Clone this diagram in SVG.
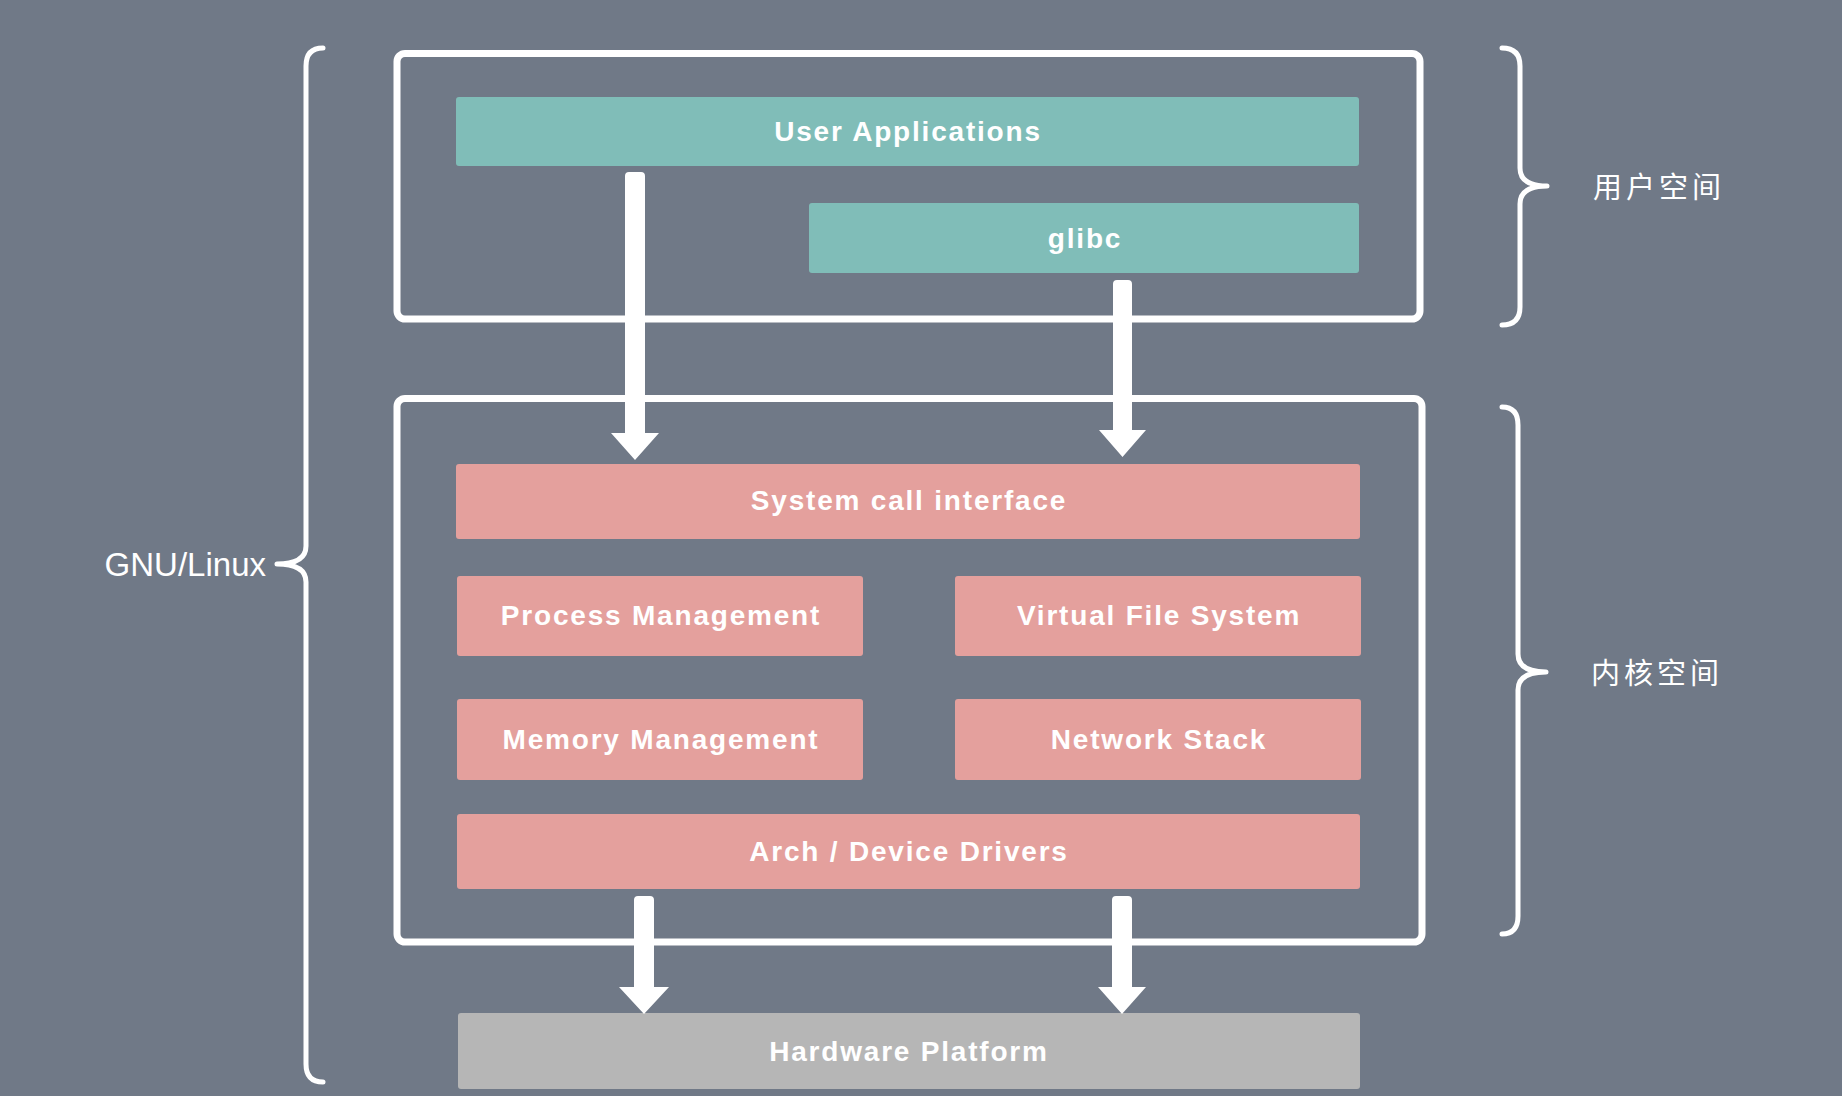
<svg xmlns="http://www.w3.org/2000/svg" width="1842" height="1096" viewBox="0 0 1842 1096">
<style>
.frame{fill:none;stroke:#ffffff;stroke-width:7}
.brace{fill:none;stroke:#ffffff;stroke-width:5;stroke-linecap:round;stroke-linejoin:round}
.user{fill:#80bdb8}
.kern{fill:#e4a09d}
.hw{fill:#b6b6b6}
.lbl{font-family:"Liberation Sans",Arial,sans-serif;font-weight:bold;font-size:28px;letter-spacing:1.8px;fill:#ffffff;text-anchor:middle;dominant-baseline:central}
.side{font-family:"Liberation Sans",Arial,sans-serif;font-size:33px;fill:#ffffff}
.cjk{font-family:"Noto Sans CJK SC","Liberation Sans",sans-serif;font-size:29px;letter-spacing:4px;fill:#ffffff}
.arrow{fill:#ffffff}
</style>
<rect x="0" y="0" width="1842" height="1096" fill="#707987"/>

<g id="user-space-frame"><rect class="frame" x="397" y="53.5" width="1023" height="265.5" rx="8"/></g>
<g id="kernel-space-frame"><rect class="frame" x="397" y="398.5" width="1025" height="543.5" rx="8"/></g>

<g id="user-applications"><rect class="user" x="456" y="97" width="903" height="69" rx="3"/><text class="lbl" x="908" y="131">User Applications</text></g>
<g id="glibc"><rect class="user" x="809" y="203" width="550" height="70" rx="3"/><text class="lbl" x="1085" y="238">glibc</text></g>

<g id="system-call-interface"><rect class="kern" x="456" y="464" width="904" height="75" rx="3"/><text class="lbl" x="909" y="500">System call interface</text></g>
<g id="process-management"><rect class="kern" x="457" y="576" width="406" height="80" rx="3"/><text class="lbl" x="661" y="615">Process Management</text></g>
<g id="virtual-file-system"><rect class="kern" x="955" y="576" width="406" height="80" rx="3"/><text class="lbl" x="1159" y="615">Virtual File System</text></g>
<g id="memory-management"><rect class="kern" x="457" y="699" width="406" height="81" rx="3"/><text class="lbl" x="661" y="739">Memory Management</text></g>
<g id="network-stack"><rect class="kern" x="955" y="699" width="406" height="81" rx="3"/><text class="lbl" x="1159" y="739">Network Stack</text></g>
<g id="arch-device-drivers"><rect class="kern" x="457" y="814" width="903" height="75" rx="3"/><text class="lbl" x="909" y="851">Arch / Device Drivers</text></g>

<g id="hardware-platform"><rect class="hw" x="458" y="1013" width="902" height="76" rx="3"/><text class="lbl" x="909" y="1051">Hardware Platform</text></g>

<g id="gnu-linux"><path class="brace" d="M323 48 Q306 48 306 66 L306 546 Q306 564 277 564 Q306 564 306 582 L306 1064 Q306 1082 323 1082"/><text class="side" x="266" y="576" text-anchor="end">GNU/Linux</text></g>
<g id="user-space"><path class="brace" d="M1502 48 Q1520 48 1520 66 L1520 168 Q1520 186 1547 186 Q1520 186 1520 204 L1520 307 Q1520 325 1502 325"/><text class="cjk" x="1593" y="198">用户空间</text></g>
<g id="kernel-space"><path class="brace" d="M1502 407 Q1518 407 1518 425 L1518 654 Q1518 672 1546 672 Q1518 672 1518 690 L1518 916 Q1518 934 1502 934"/><text class="cjk" x="1591" y="684">内核空间</text></g>

<g id="connectors">
<path class="arrow" d="M625 176 Q625 172 629 172 L641 172 Q645 172 645 176 L645 433 L659 433 L635 460 L611 433 L625 433 Z"/>
<path class="arrow" d="M1113 284 Q1113 280 1117 280 L1128 280 Q1132 280 1132 284 L1132 430 L1146 430 L1122.5 457 L1099 430 L1113 430 Z"/>
<path class="arrow" d="M634 900 Q634 896 638 896 L650 896 Q654 896 654 900 L654 987 L669 987 L644 1014 L619 987 L634 987 Z"/>
<path class="arrow" d="M1112 900 Q1112 896 1116 896 L1128 896 Q1132 896 1132 900 L1132 987 L1146 987 L1122 1014 L1098 987 L1112 987 Z"/>
</g>
</svg>
